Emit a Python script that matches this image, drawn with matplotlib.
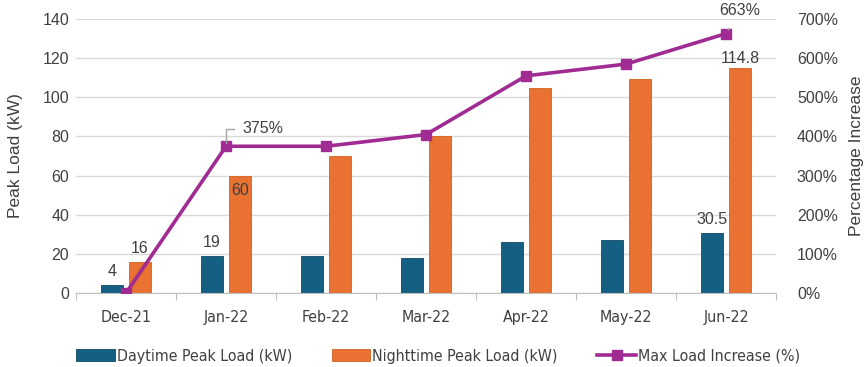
import matplotlib
matplotlib.use("Agg")
import matplotlib.pyplot as plt
from matplotlib import font_manager as fm
import numpy as np

months = ["Dec-21", "Jan-22", "Feb-22", "Mar-22", "Apr-22", "May-22", "Jun-22"]
daytime = [4, 19, 19, 18, 26, 27, 30.5]
nighttime = [16, 60, 70, 80.5, 105, 109.5, 114.8]
increase = [0, 375, 375, 405, 555, 585, 663]

blue = "#156082"
orange = "#E97132"
purple = "#A02B93"
txt = "#404040"

plt.rcParams["font.family"] = ["Liberation Sans", "DejaVu Sans"]

# narrow font for the category labels and legend, if one is installed
cond = [f for f in fm.fontManager.ttflist
        if ("Narrow" in f.name or "Condensed" in f.name or f.stretch in ("condensed", "semi-condensed"))
        and f.weight in ("normal", 400) and f.style == "normal"]
if cond:
    narrow = fm.FontProperties(fname=cond[0].fname, size=11.4)
else:
    narrow = fm.FontProperties(family="Liberation Sans", size=10.5)

fig = plt.figure(figsize=(8.68, 3.67), dpi=100)
ax = fig.add_axes([0.0876, 0.2016, 0.8065, 0.7464])
x = np.arange(len(months))
w = 0.22
b1 = ax.bar(x - 0.14, daytime, w, color=blue, edgecolor="#0f4a66", linewidth=0.6,
            label="Daytime Peak Load (kW)", zorder=2)
b2 = ax.bar(x + 0.14, nighttime, w, color=orange, edgecolor="#d0621f", linewidth=0.6,
            label="Nighttime Peak Load (kW)", zorder=2)

ax.set_xlim(-0.5, len(months) - 0.5)
ax.set_ylim(0, 140)
ax.set_yticks(range(0, 141, 20))
ax.grid(axis="y", color="#d9d9d9", linewidth=1, zorder=0)
ax.set_axisbelow(True)
for s in ["top", "right", "left"]:
    ax.spines[s].set_visible(False)
ax.spines["bottom"].set_color("#bfbfbf")
ax.set_xticks(np.arange(-0.5, len(months), 1))
ax.set_xticklabels([])
ax.tick_params(axis="x", length=5, color="#bfbfbf")
ax.set_xticks(x, minor=True)
ax.set_xticklabels(months, minor=True, fontproperties=narrow, color=txt)
ax.tick_params(axis="x", which="minor", length=0, pad=12)
ax.tick_params(axis="y", length=0, labelsize=11.5, labelcolor=txt, pad=5)
ax.set_ylabel("Peak Load (kW)", fontsize=12.5, color=txt)
ax.yaxis.set_label_coords(-0.0757, 0.5)

ax2 = ax.twinx()
ln, = ax2.plot(x, increase, color=purple, linewidth=2.6, marker="s", markersize=7,
               label="Max Load Increase (%)", zorder=3)
ax2.set_ylim(0, 700)
ax2.set_yticks(range(0, 701, 100))
ax2.set_yticklabels([f"{v}%" for v in range(0, 701, 100)])
for s in ax2.spines.values():
    s.set_visible(False)
ax2.tick_params(axis="y", length=0, labelsize=11.5, labelcolor=txt, pad=15)
ax2.set_ylabel("Percentage Increase", fontsize=12.5, color=txt)
ax2.yaxis.set_label_coords(1.104, 0.5)

# data labels
lab = dict(fontsize=11.5, color=txt, ha="center")
ax.text(x[0] - 0.14, daytime[0] + 3, "4", va="bottom", **lab)
ax.text(x[0] + 0.14, nighttime[0] + 3, "16", va="bottom", **lab)
ax.text(x[1] - 0.14, daytime[1] + 3, "19", va="bottom", **lab)
ax.text(x[1] + 0.14, nighttime[1] - 4, "60", va="top", **lab)
ax.text(x[6] - 0.14, daytime[6] + 3, "30.5", va="bottom", **lab)
ax.text(x[6] + 0.14, nighttime[6] + 1, "114.8", va="bottom", **lab)

ax2.annotate(f"{increase[1]}%", xy=(x[1], increase[1]), xytext=(x[1] + 0.16, increase[1] + 45),
             fontsize=11.5, color=txt, ha="left", va="center",
             arrowprops=dict(arrowstyle="-", color="#a6a6a6", lw=1, shrinkA=4,
                             connectionstyle="angle,angleA=0,angleB=90,rad=0"))
ax2.annotate(f"{increase[6]}%", xy=(x[6], increase[6]), xytext=(x[6] + 0.14, increase[6] + 60),
             fontsize=11.5, color=txt, ha="center", va="center",
             arrowprops=dict(arrowstyle="-", color="#a6a6a6", lw=1, shrinkA=7, shrinkB=3))

fig.legend(handles=[b1, b2, ln], loc="center", bbox_to_anchor=(438 / 868, 1 - 356 / 367), ncol=3,
           frameon=False, prop=narrow, labelcolor=txt, borderpad=0,
           handlelength=2.45, handleheight=0.75, handletextpad=0.12, columnspacing=2.5)

fig.savefig("out.png", dpi=100)
